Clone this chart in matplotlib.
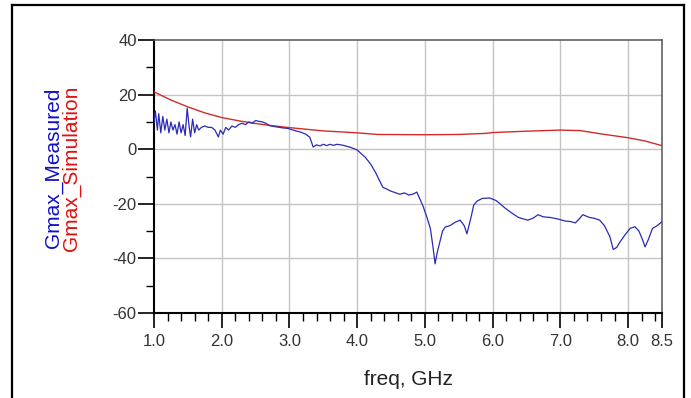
import matplotlib
matplotlib.use("Agg")
import matplotlib.pyplot as plt
import numpy as np
from matplotlib.lines import Line2D
from matplotlib.ticker import MultipleLocator

plt.rcParams["font.family"] = ["Liberation Sans", "DejaVu Sans"]
plt.rcParams["axes.unicode_minus"] = False

# Measured Gmax (dB) vs frequency (GHz)
freq_meas = [
    1.00, 1.02, 1.05, 1.07, 1.10, 1.13, 1.16, 1.19, 1.22, 1.25, 1.28, 1.31,
    1.34, 1.37, 1.40, 1.43, 1.46, 1.49, 1.52, 1.54, 1.57, 1.60, 1.63, 1.66,
    1.70, 1.75, 1.80, 1.85, 1.90, 1.95, 1.98, 2.02, 2.06, 2.10, 2.15, 2.20,
    2.25, 2.30, 2.35, 2.40, 2.45, 2.50, 2.55, 2.60, 2.65, 2.71, 2.80, 2.90,
    2.98, 3.08, 3.16, 3.24, 3.30, 3.35, 3.40, 3.45, 3.50, 3.55, 3.60, 3.65,
    3.70, 3.78, 3.90, 4.00, 4.12, 4.20, 4.27, 4.33, 4.38, 4.43, 4.49, 4.55,
    4.63, 4.70, 4.76, 4.83, 4.88, 4.97, 5.03, 5.08, 5.12, 5.15, 5.18, 5.22,
    5.26, 5.30, 5.37, 5.45, 5.52, 5.58, 5.62, 5.68, 5.72, 5.77, 5.85, 5.96,
    6.05, 6.11, 6.18, 6.26, 6.38, 6.45, 6.52, 6.60, 6.67, 6.75, 6.85, 6.95,
    7.07, 7.15, 7.22, 7.28, 7.33, 7.43, 7.50, 7.58, 7.65, 7.73, 7.78, 7.83,
    7.88, 7.95, 8.03, 8.10, 8.16, 8.21, 8.25, 8.30, 8.36, 8.43, 8.50,
]
gmax_meas = [
    10.0, 14.0, 7.0, 13.0, 6.0, 12.0, 7.0, 11.0, 6.0, 10.0, 7.0, 9.0,
    5.5, 10.0, 6.0, 9.0, 5.0, 15.0, 8.0, 4.5, 11.0, 6.0, 9.0, 7.0,
    8.0, 8.5, 8.0, 8.0, 7.0, 4.5, 7.0, 5.5, 8.0, 7.0, 8.5, 8.0,
    9.0, 9.5, 9.0, 10.0, 9.5, 10.5, 10.2, 10.0, 9.5, 8.6, 8.2, 7.8,
    7.6, 6.8, 6.3, 5.5, 4.4, 0.8, 1.6, 1.2, 1.8, 1.3, 1.8, 1.4,
    1.8, 1.5, 0.7, -0.3, -3.0, -5.5, -8.5, -11.5, -14.0, -14.5, -15.3, -15.8,
    -16.5, -16.0, -16.8, -16.4, -15.7, -20.7, -25.0, -29.0, -36.0, -42.0, -38.0, -34.0,
    -30.0, -28.5, -28.0, -26.7, -26.0, -28.0, -31.0, -25.0, -20.5, -19.0, -18.0, -17.9,
    -18.8, -20.0, -21.5, -23.0, -25.0, -25.5, -26.0, -25.2, -24.0, -24.8, -25.0, -25.5,
    -26.3, -26.5, -27.0, -25.5, -24.0, -25.0, -25.3, -26.0, -28.0, -32.0, -36.7, -36.0,
    -34.0, -31.5, -29.0, -28.4, -30.0, -33.0, -35.8, -33.0, -29.0, -28.0, -26.5,
]

# Simulated Gmax (dB)
freq_sim = [1.00, 1.25, 1.50, 1.75, 2.00, 2.25, 2.50, 2.75, 3.00, 3.50, 4.00,
            4.30, 5.00, 5.50, 5.90, 6.00, 6.50, 7.00, 7.30, 7.60, 8.00, 8.25, 8.50]
gmax_sim = [21.0, 18.0, 15.5, 13.3, 11.6, 10.4, 9.4, 8.6, 7.9, 6.7, 6.0,
            5.4, 5.3, 5.4, 5.8, 6.1, 6.6, 7.0, 6.8, 5.6, 4.2, 3.0, 1.3]

x_ticks = [1.0, 2.0, 3.0, 4.0, 5.0, 6.0, 7.0, 8.0, 8.5]
x_ticklabels = ["1.0", "2.0", "3.0", "4.0", "5.0", "6.0", "7.0", "8.0", "8.5"]
y_ticks = [-60, -40, -20, 0, 20, 40]

BLUE = "#2A2AB8"
RED = "#D42A2A"
GRID = "#C4C4C4"
TICK_TEXT = "#333333"

fig = plt.figure(figsize=(6.91, 3.98), dpi=100)
ax = fig.add_axes([154 / 691, 1 - 313 / 398, (662 - 154) / 691, (313 - 40) / 398])

ax.plot(freq_sim, gmax_sim, color=RED, linewidth=1.0, zorder=3)
ax.plot(freq_meas, gmax_meas, color=BLUE, linewidth=0.9, zorder=4)

ax.set_xlim(1.0, 8.5)
ax.set_ylim(-60, 40)
ax.set_xticks(x_ticks, x_ticklabels)
ax.set_yticks(y_ticks)
ax.xaxis.set_minor_locator(MultipleLocator(0.2))
ax.yaxis.set_minor_locator(MultipleLocator(10))

for gx in x_ticks[1:-1]:
    ax.axvline(gx, color=GRID, linewidth=1.0, zorder=1)
for gy in [-40, -20, 0, 20]:
    ax.axhline(gy, color=GRID, linewidth=1.0, zorder=1)

ax.tick_params(axis="both", which="major", direction="out", color="black",
               width=1.2, labelsize=12, labelcolor=TICK_TEXT)
ax.tick_params(axis="y", which="major", length=11.5, pad=1)
ax.tick_params(axis="x", which="major", length=11, pad=4)
ax.tick_params(axis="both", which="minor", direction="out", color="black",
               width=1.0, length=6)

ax.spines["left"].set_linewidth(1.5)
ax.spines["bottom"].set_linewidth(1.5)
ax.spines["top"].set_color("#555555")
ax.spines["right"].set_color("#555555")
ax.spines["top"].set_linewidth(1.1)
ax.spines["right"].set_linewidth(1.1)

ax.set_xlabel("freq, GHz", fontsize=15, color="#222222", labelpad=15)

fig.text(53 / 691, 1 - 168 / 398, "Gmax_Measured", rotation=90, color="#1010C8",
         fontsize=15, ha="center", va="center")
fig.text(71 / 691, 1 - 168 / 398, "Gmax_Simulation", rotation=90, color="#E01010",
         fontsize=15, ha="center", va="center")

# outer frame (bottom edge falls outside the picture)
bx0, bx1, by1 = 12 / 691, 684 / 691, 1 - 5 / 398
for xs, ys in [([bx0, bx0], [0, by1]), ([bx0, bx1], [by1, by1]), ([bx1, bx1], [by1, 0])]:
    fig.add_artist(Line2D(xs, ys, transform=fig.transFigure, color="black", linewidth=1.6))

fig.savefig("out.png", dpi=100)
